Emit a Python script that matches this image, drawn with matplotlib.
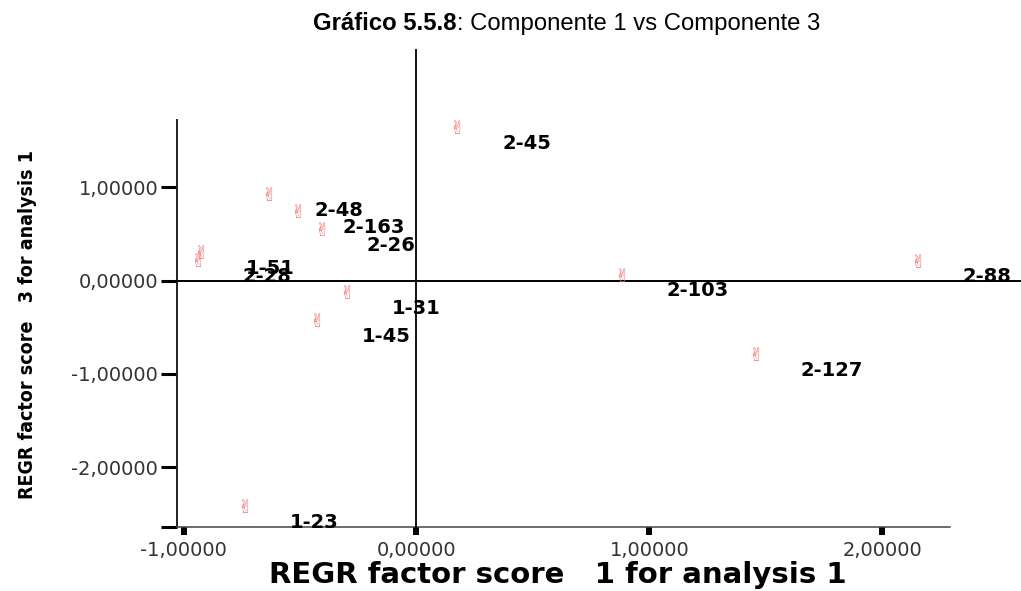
import matplotlib
matplotlib.use("Agg")
import matplotlib.pyplot as plt
from matplotlib import font_manager
from matplotlib.ticker import FixedLocator, FuncFormatter

plt.rcParams["axes.unicode_minus"] = False

# Factor scores (component 1 vs component 3) per case
case_labels = ["2-45", "2-48", "2-163", "2-26", "1-51", "2-28",
               "1-31", "1-45", "1-23", "2-103", "2-127", "2-88"]
comp1 = [0.174, -0.633, -0.509, -0.406, -0.925, -0.938,
         -0.298, -0.427, -0.736, 0.882, 1.457, 2.152]
comp3 = [1.623, 0.905, 0.723, 0.530, 0.284, 0.198,
         -0.145, -0.445, -2.440, 0.038, -0.810, 0.188]

x_ticks = [-1.0, 0.0, 1.0, 2.0]
y_ticks = [1.0, 0.0, -1.0, -2.0]

title_bold = "Gráfico 5.5.8"
title_rest = ": Componente 1 vs Componente 3"
x_title = "REGR factor score   1 for analysis 1"
y_title = "REGR factor score   3 for analysis 1"
point_symbol = "\u270C"

W, H = 1021, 591
fig = plt.figure(figsize=(W / 100, H / 100), dpi=100)
fig.patch.set_facecolor("white")

ax_l, ax_r, ax_b, ax_t = 177, 950, 527, 120
ax = fig.add_axes([ax_l / W, 1 - ax_b / H, (ax_r - ax_l) / W, (ax_b - ax_t) / H])
xlo, xhi = -1.028, 2.290
ylo, yhi = -2.641, 1.720
ax.set_xlim(xlo, xhi)
ax.set_ylim(ylo, yhi)

for side in ("top", "right"):
    ax.spines[side].set_visible(False)
ax.spines["left"].set_color("#222222")
ax.spines["left"].set_linewidth(1.4)
ax.spines["bottom"].set_color("#444444")
ax.spines["bottom"].set_linewidth(1.1)

fmt = FuncFormatter(lambda v, p: f"{v:.5f}".replace(".", ","))
ax.xaxis.set_major_locator(FixedLocator(x_ticks))
ax.yaxis.set_major_locator(FixedLocator(y_ticks))
ax.xaxis.set_major_formatter(fmt)
ax.yaxis.set_major_formatter(fmt)
ax.yaxis.set_minor_locator(FixedLocator([ylo]))

ax.tick_params(axis="x", direction="out", length=5.8, width=4.3,
               color="black", pad=4, labelsize=14, labelcolor="#333333")
ax.tick_params(axis="y", which="both", direction="out", length=11.5,
               width=2.2, color="black", pad=2, labelsize=14,
               labelcolor="#333333")

# Reference lines through the origin, extending past the plotting area
ax.plot([xlo, 2.594], [0, 0], color="black", lw=1.4, clip_on=False, zorder=3)
ax.plot([0, 0], [ylo, 2.47], color="black", lw=1.3, clip_on=False, zorder=3)

# Case markers and labels
for lab, x, y in zip(case_labels, comp1, comp3):
    ax.text(x, y, point_symbol, ha="center", va="center", fontsize=13,
            family="DejaVu Sans", color="#f07070", zorder=4)
    ax.annotate(lab, (x, y), xytext=(45, -14), textcoords="offset pixels",
                ha="left", va="center", fontsize=14, fontweight="bold",
                family="DejaVu Sans", color="black", zorder=5)

# Title: bold figure number followed by regular description
t1 = fig.text(313 / W, 1 - 24 / H, title_bold, ha="left", va="center",
              fontsize=17.2, fontweight="bold", family="Liberation Sans")
fig.canvas.draw()
bb = t1.get_window_extent()
fig.text(bb.x1 / W, 1 - 24 / H, title_rest, ha="left", va="center",
         fontsize=17.2, family="Liberation Sans")

fig.text(558 / W, 1 - 583 / H, x_title, ha="center", va="baseline",
         fontsize=21, fontweight="bold", family="DejaVu Sans")

# Narrow bold face for the vertical axis title when one is available
condensed = [f for f in font_manager.fontManager.ttflist
             if f.name == "DejaVu Sans" and "condensed" in str(f.stretch)
             and f.weight in ("bold", 700)]
if any(f.name == "Liberation Sans Narrow" for f in font_manager.fontManager.ttflist):
    ykw = dict(family="Liberation Sans Narrow", fontsize=18)
elif condensed:
    ykw = dict(family="DejaVu Sans", fontstretch="condensed", fontsize=14)
else:
    ykw = dict(family="Liberation Sans", fontsize=15)
fig.text(28 / W, 1 - 325 / H, y_title, ha="center", va="center",
         rotation=90, fontweight="bold", **ykw)

fig.savefig("out.png", dpi=100, facecolor="white")
